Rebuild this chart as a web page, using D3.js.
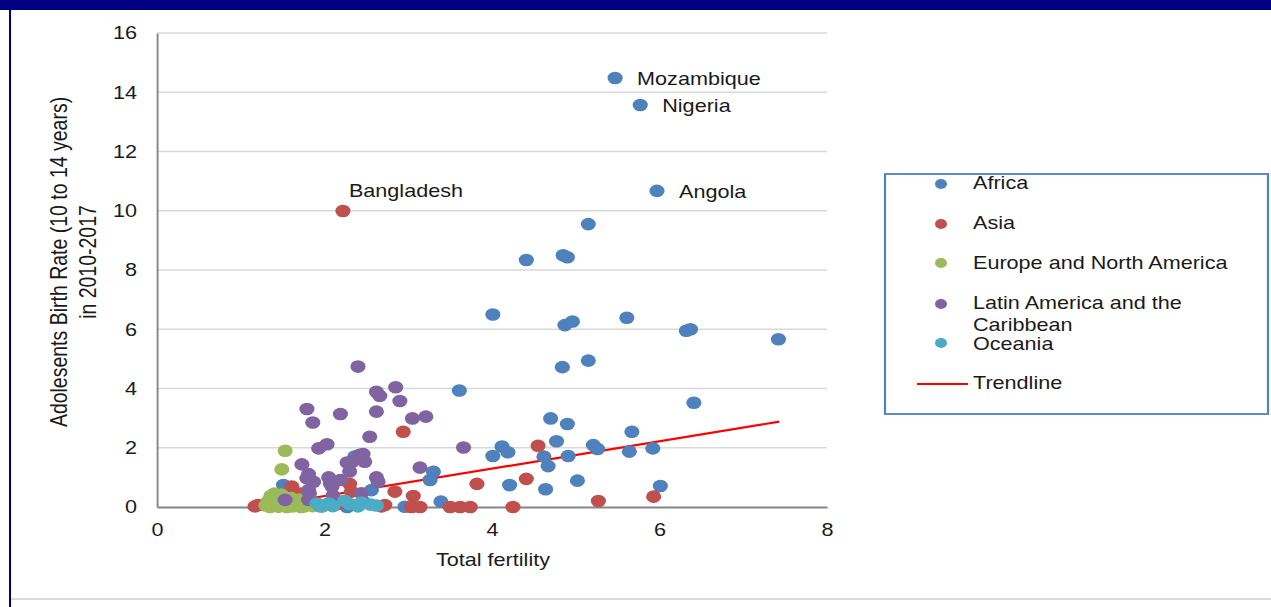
<!DOCTYPE html>
<html>
<head>
<meta charset="utf-8">
<script src="https://cdn.jsdelivr.net/npm/d3@7"></script>
<style>
  html, body { margin: 0; padding: 0; background: #fff; }
  svg { display: block; }
  text { font-family: "Liberation Sans", Arial, sans-serif; fill: #1a1a1a; }
</style>
</head>
<body>
<svg id="chart"></svg>
<script>
// ---------------- DATA ----------------
const seriesNames = ["Africa", "Asia", "Europe and North America", "Latin America and the Caribbean", "Oceania"];
const seriesColors = ["#4f81bd", "#c0504d", "#9bbb59", "#8064a2", "#4bacc6"];

const africa = [
  [5.47,14.48],[5.77,13.57],[5.97,10.67],[5.15,9.55],[4.41,8.34],[4.85,8.50],[4.90,8.43],
  [4.01,6.50],[4.87,6.14],[4.96,6.26],[5.61,6.39],[6.32,5.95],[6.37,6.00],[7.42,5.66],
  [4.84,4.72],[5.15,4.94],[6.41,3.52],[3.61,3.93],[4.70,2.99],[4.90,2.80],[4.77,2.22],
  [5.67,2.54],[4.12,2.04],[4.19,1.85],[4.01,1.72],[4.62,1.70],[4.67,1.38],[4.91,1.72],
  [5.21,2.09],[5.26,1.96],[5.64,1.87],[5.92,1.98],[4.21,0.74],[4.64,0.60],[5.02,0.89],
  [6.01,0.71],[3.30,1.19],[3.26,0.91],[3.39,0.18],[2.56,0.57],[2.36,1.70],[1.51,0.74],
  [2.96,0.01],[2.27,0.00],[2.46,0.18]
];
const asia = [
  [2.22,9.99],[2.94,2.54],[4.55,2.07],[3.82,0.78],[4.41,0.95],[2.84,0.52],[3.06,0.37],
  [2.30,0.78],[2.32,0.52],[1.61,0.69],[1.71,0.45],[3.04,0.00],[3.14,0.00],[3.50,0.00],
  [3.62,0.00],[3.74,0.00],[2.72,0.07],[1.21,0.07],[1.17,0.02],[1.45,0.02],[1.98,0.03],
  [2.15,0.10],[2.68,0.02],[4.25,0.00],[5.27,0.20],[5.93,0.35]
];
const europe = [
  [1.53,1.90],[1.49,1.27],
  [1.30,0.05],[1.33,0.20],[1.36,0.38],[1.39,0.10],[1.40,0.45],[1.43,0.28],[1.45,0.02],
  [1.47,0.15],[1.50,0.35],[1.52,0.05],[1.55,0.22],[1.58,0.10],[1.60,0.30],[1.62,0.02],
  [1.65,0.15],[1.68,0.05],[1.70,0.25],[1.73,0.10],[1.76,0.02],[1.78,0.18],[1.80,0.08],
  [1.83,0.12],[1.86,0.03],[1.89,0.10],[1.93,0.05],[1.97,0.02],[2.02,0.08],[1.35,0.00],
  [1.55,0.00],[1.72,0.00],[1.42,0.40],[1.48,0.42]
];
const latinAmerica = [
  [2.40,4.74],[1.79,3.31],[1.86,2.85],[2.19,3.14],[2.62,3.89],[2.66,3.75],[2.85,4.04],
  [2.90,3.58],[2.62,3.22],[3.05,2.99],[3.21,3.05],[2.54,2.37],[3.66,2.01],[1.93,1.98],
  [2.03,2.12],[3.14,1.33],[1.73,1.44],[1.81,1.11],[1.79,0.97],[1.87,0.85],[2.05,1.00],
  [2.19,0.91],[2.07,0.80],[2.27,1.50],[2.33,1.53],[2.42,1.76],[2.46,1.79],[2.48,1.53],
  [2.30,1.20],[2.62,1.00],[2.64,0.85],[2.44,0.46],[2.10,0.38],[1.82,0.46],[1.81,0.57],
  [1.81,0.24],[1.53,0.24],[2.09,0.69]
];
const oceania = [
  [1.91,0.12],[2.05,0.12],[2.10,0.03],[2.24,0.21],[2.44,0.15],[2.62,0.05],[1.95,0.02],
  [2.30,0.10],[2.55,0.08],[2.40,0.02]
];
const trendX = [1.20, 7.43];
const trendY = [0.00, 2.88];

const labels = [
  { name: "Mozambique", x: 5.47, y: 14.48 },
  { name: "Nigeria", x: 5.77, y: 13.57 },
  { name: "Angola", x: 5.97, y: 10.67 },
  { name: "Bangladesh", x: 2.22, y: 9.99 }
];

const xTicks = [0, 2, 4, 6, 8];
const yTicks = [0, 2, 4, 6, 8, 10, 12, 14, 16];
const xTitle = "Total fertility";
const yTitleLines = ["Adolesents Birth Rate (10 to 14 years)", "in 2010-2017"];
const trendName = "Trendline";

// ---------------- LAYOUT ----------------
const W = 1271, H = 607;
const S = 1.2; // horizontal stretch of the original picture
const VW = W / S;

const svg = d3.select("#chart")
  .attr("width", W).attr("height", H)
  .attr("viewBox", `0 0 ${VW} ${H}`)
  .attr("preserveAspectRatio", "none");

const x = d3.scaleLinear().domain([0, 8]).range([157 / S, 827 / S]);
const y = d3.scaleLinear().domain([0, 16]).range([507, 33]);

// frame
svg.append("rect").attr("x", 0).attr("y", 0).attr("width", VW).attr("height", 10).attr("fill", "#000080");
svg.append("rect").attr("x", 9 / S).attr("y", 0).attr("width", 2 / S).attr("height", H).attr("fill", "#000080");
svg.append("rect").attr("x", 11 / S).attr("y", 598).attr("width", VW).attr("height", 2).attr("fill", "#d9d9d9");

// gridlines
svg.append("g").selectAll("line").data(yTicks.filter(d => d > 0)).join("line")
  .attr("x1", x(0)).attr("x2", x(8))
  .attr("y1", d => y(d)).attr("y2", d => y(d))
  .attr("stroke", "#d9d9d9").attr("stroke-width", 1.6);

// axes
const yAxis = d3.axisLeft(y).tickValues(yTicks).tickSize(0).tickPadding(20 / S);
const gy = svg.append("g").attr("transform", `translate(${x(0)},0)`).call(yAxis);
gy.select(".domain").attr("stroke", "#868686").attr("stroke-width", 1.6);
gy.selectAll("text").attr("font-size", 18).attr("fill", "#1a1a1a")
  .attr("font-family", '"Liberation Sans", Arial, sans-serif');

const xAxis = d3.axisBottom(x).tickValues(xTicks).tickSize(0).tickPadding(16);
const gx = svg.append("g").attr("transform", `translate(0,${y(0)})`).call(xAxis);
gx.select(".domain").attr("stroke", "#868686").attr("stroke-width", 2);
gx.selectAll("text").attr("font-size", 18).attr("fill", "#1a1a1a")
  .attr("font-family", '"Liberation Sans", Arial, sans-serif');

// axis titles
svg.append("text").attr("x", 493 / S).attr("y", 560)
  .attr("text-anchor", "middle").attr("dominant-baseline", "central")
  .attr("font-size", 18).text(xTitle);

const yT = svg.append("g").attr("transform", `translate(0,262)`);
yTitleLines.forEach((t, i) => {
  yT.append("text")
    .attr("transform", `translate(${(59 + i * 29) / S},0) rotate(-90)`)
    .attr("text-anchor", "middle").attr("dominant-baseline", "central")
    .attr("font-size", 19.5).text(t);
});

// trendline (under the markers)
svg.append("line")
  .attr("x1", x(trendX[0])).attr("y1", y(trendY[0]))
  .attr("x2", x(trendX[1])).attr("y2", y(trendY[1]))
  .attr("stroke", "#ff0000").attr("stroke-width", 2.2);

// points
const allSeries = [africa, asia, europe, latinAmerica, oceania];
const R = 6.3;
allSeries.forEach((data, i) => {
  svg.append("g").selectAll("circle").data(data).join("circle")
    .attr("cx", d => x(d[0])).attr("cy", d => y(d[1]))
    .attr("r", R).attr("fill", seriesColors[i]);
});

// point labels
svg.append("g").selectAll("text").data(labels).join("text")
  .attr("x", d => x(d.x) + (d.name === "Bangladesh" ? 6 : 22) / S)
  .attr("y", d => y(d.y) + (d.name === "Bangladesh" ? -20 : 1))
  .attr("dominant-baseline", "central")
  .attr("font-size", 18).text(d => d.name);

// legend
const lg = svg.append("g");
lg.append("rect").attr("x", 885 / S).attr("y", 174)
  .attr("width", (1268 - 885) / S).attr("height", 240)
  .attr("fill", "#fff").attr("stroke", "#4f81bd").attr("stroke-width", 1.8);

const legendRows = [
  { lines: ["Africa"], y: 183, my: 184 },
  { lines: ["Asia"], y: 223, my: 224 },
  { lines: ["Europe and North America"], y: 263, my: 263 },
  { lines: ["Latin America and the", "Caribbean"], y: 303, my: 304 },
  { lines: ["Oceania"], y: 344, my: 343 }
];
legendRows.forEach((row, i) => {
  lg.append("circle").attr("cx", 941 / S).attr("cy", row.my).attr("r", 5)
    .attr("fill", seriesColors[i]);
  row.lines.forEach((t, j) => {
    lg.append("text").attr("x", 973 / S).attr("y", row.y + j * 22)
      .attr("dominant-baseline", "central").attr("font-size", 18).text(t);
  });
});
lg.append("line").attr("x1", 917 / S).attr("x2", 968 / S).attr("y1", 384).attr("y2", 384)
  .attr("stroke", "#ff0000").attr("stroke-width", 2);
lg.append("text").attr("x", 973 / S).attr("y", 383)
  .attr("dominant-baseline", "central").attr("font-size", 18).text(trendName);
</script>
</body>
</html>
